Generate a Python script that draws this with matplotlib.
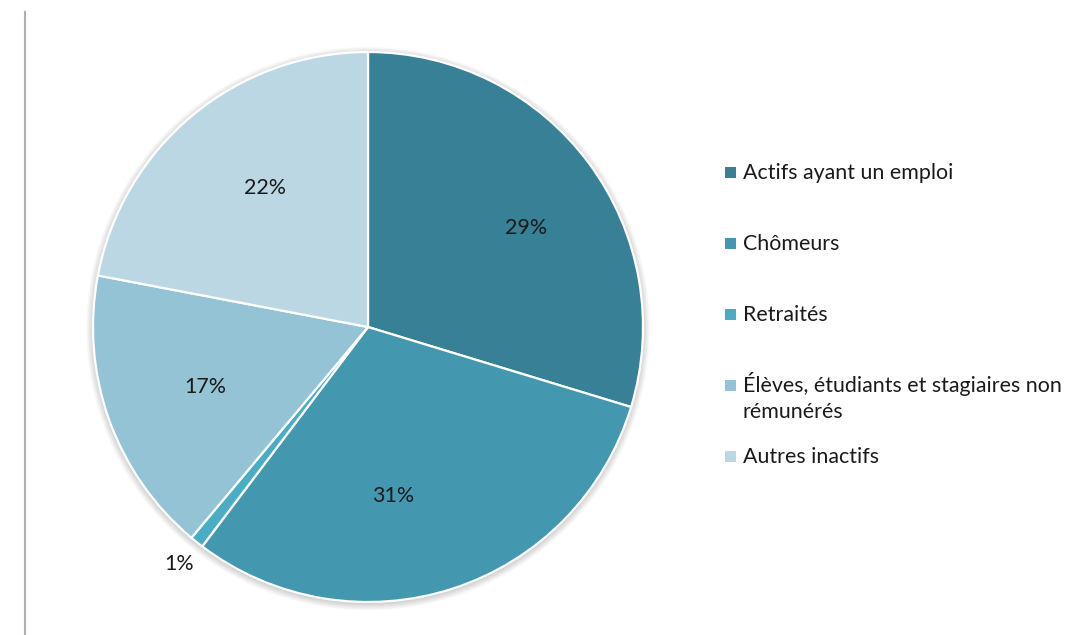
import numpy as np
import matplotlib
matplotlib.use("Agg")
import matplotlib.pyplot as plt
from matplotlib.patches import Circle, Rectangle
from matplotlib.lines import Line2D
from matplotlib.transforms import Affine2D

# ---- data ----
categories = ["Actifs ayant un emploi", "Chômeurs", "Retraités",
              "Élèves, étudiants et stagiaires non\nrémunérés", "Autres inactifs"]
values = [29.7, 30.6, 0.8, 16.9, 22.0]
pct_labels = ["29%", "31%", "1%", "17%", "22%"]
colors = ["#378095", "#4398AF", "#4BACC6", "#93C3D4", "#BAD7E3"]

# label placement (fraction of radius, angular tweak in degrees)
label_dist = [0.68, 0.62, 1.10, 0.63, 0.63]
label_dang = [-4.5, -9.5, 0.0, 0.5, -3.0]

plt.rcParams['font.family'] = ['Lato', 'DejaVu Sans']
FS = 15.4

W, H = 1065, 635
fig = plt.figure(figsize=(W / 100, H / 100), dpi=100)
fig.patch.set_facecolor("white")

# pie geometry in pixels
cx, cy, R = 368, 327, 275
LIM = 1.15
half = R * LIM
ax = fig.add_axes([(cx - half) / W, (H - cy - half) / H, 2 * half / W, 2 * half / H])
ax.axis("off")

# soft shadow
for i in range(8):
    ax.add_patch(Circle((0.0, -0.006), 1.0 + 0.0035 * i, facecolor="#000000",
                        alpha=0.025, edgecolor="none", zorder=0))

wedges, _ = ax.pie(values, startangle=90, counterclock=False, colors=colors,
                   radius=1.0,
                   wedgeprops=dict(edgecolor="white", linewidth=1.6, zorder=2))
ax.set_xlim(-LIM, LIM)
ax.set_ylim(-LIM, LIM)

for w, lab, d, da in zip(wedges, pct_labels, label_dist, label_dang):
    ang = np.deg2rad((w.theta1 + w.theta2) / 2 + da)
    ax.text(d * np.cos(ang), d * np.sin(ang), lab, ha="center", va="center",
            fontsize=FS, color="#1a1a1a", zorder=5)

# left vertical rule
fig.add_artist(Line2D([24.5 / W, 24.5 / W], [0, (H - 12) / H], color="#b0b0b0", lw=1.5))

# legend (manual, pixel coordinates, y downward)
trans = Affine2D().scale(1 / W, -1 / H).translate(0, 1) + fig.transFigure
y0, step, line_h = 172, 71, 26
for i, (cat, col) in enumerate(zip(categories, colors)):
    y = y0 + step * i
    fig.add_artist(Rectangle((725, y - 5.5), 11, 11, facecolor=col, edgecolor="none",
                             transform=trans))
    for k, line in enumerate(cat.split("\n")):
        fig.text(743, y + 7 + line_h * k, line, transform=trans, fontsize=FS,
                 color="#1a1a1a", ha="left", va="baseline")

fig.savefig("out.png", dpi=100, facecolor="white")
